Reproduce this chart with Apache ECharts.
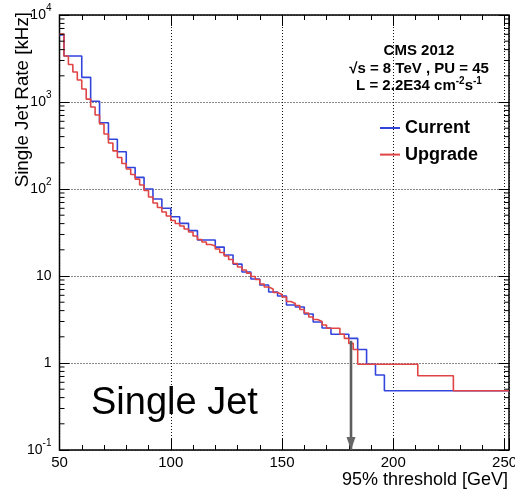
<!DOCTYPE html>
<html><head><meta charset="utf-8">
<script src="https://cdn.jsdelivr.net/npm/echarts@6/dist/echarts.min.js"></script>
<style>html,body{margin:0;padding:0;background:#fff}#c{width:515px;height:489px}</style>
</head><body><div id="c"></div>
<script>
// ---- data ----
// "Current": lower bin edges [GeV] and rates [kHz]
const currentEdges = [50,52,60,64,68,72,76,80,84,88,92,96,100,104,108,112,120,124,128,132,
  136,140,144,148,152,156,160,164,168,172,180,184,188,192,196];
const currentValues = [5900,3380,1920,1020,578,373,268,177,136,100,76.8,60.0,48.0,40.3,33.2,25.9,21.5,17.4,13.7,11.1,
  9.24,7.88,6.55,5.89,4.64,4.40,3.66,2.96,2.53,2.14,1.92,1.43,0.966,0.728,0.480];
// "Upgrade": lower bin edges [GeV] and rates [kHz]
const upgradeEdges = [50,52,54,56,58,60,62,64,66,68,70,72,74,76,78,80,82,84,86,88,
  90,92,94,96,98,100,102,104,106,108,110,112,114,116,118,120,122,124,126,128,
  130,132,134,136,138,140,142,144,146,148,150,152,154,156,158,160,162,164,166,168,
  170,172,174,176,178,180,182,184,211,227];
const upgradeValues = [6050,3380,2700,2210,1790,1410,1080,876,709,559,
  429,338,274,230,196,170,147,130,111,96.1,
  80.9,69.1,61.3,54.4,48.9,43.4,40.1,37.5,34.7,32.0,
  28.8,26.3,24.6,23.0,22.1,20.4,18.6,17.0,15.5,13.9,
  12.7,11.7,10.8,9.87,9.12,8.09,7.47,7.09,6.46,6.13,
  5.74,5.09,4.83,4.58,4.12,3.75,3.38,3.16,3.00,2.73,
  2.51,2.51,2.51,2.14,1.92,1.68,1.43,0.966,0.715,0.480];
const xMin = 50, xMax = 252;
const yMin = 0.1, yMax = 10000;
const xTickLabels = [50,100,150,200,250];
const thresholdX = 181;      // 95% threshold arrow position [GeV]
const thresholdTop = 1.8;    // arrow starts at this rate [kHz]

// ---- chart ----
const FONT = 'Liberation Sans';
function stepData(edges, values, end) {
  const d = edges.map((e, i) => [e, values[i]]);
  d.push([end, values[values.length - 1]]);
  return d;
}
const minorTickVals = [];
for (let e = -1; e < 4; e++) for (let k = 2; k <= 9; k++) minorTickVals.push(k * Math.pow(10, e));

const gridLine = {show: true, lineStyle: {color: '#111', width: 1, type: [1, 2]}};
function xAxisDef(pos, interval, len, labels, split) {
  return {
    type: 'value', min: xMin, max: xMax, interval: interval, position: pos,
    axisLine: {show: false},
    axisTick: {show: true, inside: true, length: len, lineStyle: {color: '#000', width: 1}},
    axisLabel: labels ? {
      show: true, margin: 5, color: '#000', fontSize: 15, fontFamily: FONT, hideOverlap: false,
      formatter: v => (xTickLabels.indexOf(v) >= 0 ? String(v) : '')
    } : {show: false},
    splitLine: split ? gridLine : {show: false}
  };
}
function yAxisDef(pos, labels, split) {
  return {
    type: 'log', logBase: 10, min: yMin, max: yMax, position: pos,
    axisLine: {show: false},
    axisTick: {show: true, inside: true, length: 10, lineStyle: {color: '#000', width: 1}},
    axisLabel: labels ? {
      show: true, margin: 8, color: '#000', fontFamily: FONT,
      formatter: v => {
        const e = Math.round(Math.log10(v));
        if (e === 0) return '{b|1}';
        if (e === 1) return '{b|10}';
        return '{b|10}{s|' + e + '}';
      },
      rich: {
        b: {fontSize: 14, fontFamily: FONT, color: '#000', lineHeight: 24},
        s: {fontSize: 10, fontFamily: FONT, color: '#000', lineHeight: 10, verticalAlign: 'top'}
      }
    } : {show: false},
    splitLine: split ? gridLine : {show: false}
  };
}

const chart = echarts.init(document.getElementById('c'), null, {renderer: 'canvas'});
chart.setOption({
  animation: false,
  backgroundColor: '#fff',
  grid: {left: 59.5, right: 6, top: 15, bottom: 39, show: true, borderColor: '#000', borderWidth: 1.5,
    containLabel: false, outerBoundsMode: 'none'},
  xAxis: [
    xAxisDef('bottom', 50, 11, true, true),
    xAxisDef('bottom', 10, 5, false, false),
    xAxisDef('top', 50, 11, false, false),
    xAxisDef('top', 10, 5, false, false)
  ],
  yAxis: [yAxisDef('left', true, true), yAxisDef('right', false, false)],
  legend: {
    data: ['Current', 'Upgrade'], orient: 'vertical', left: 375, top: 114,
    itemWidth: 20, itemHeight: 2, icon: 'rect', itemGap: 8.6,
    textStyle: {fontFamily: FONT, fontWeight: 'bold', fontSize: 18, color: '#000', lineHeight: 18}
  },
  series: [
    {
      name: 'Current', type: 'line', step: 'end', xAxisIndex: 0, yAxisIndex: 0,
      data: stepData(currentEdges, currentValues, xMax), symbol: 'none',
      lineStyle: {color: '#3344dd', width: 1.6}, itemStyle: {color: '#3344dd'}, z: 3
    },
    {
      name: 'Upgrade', type: 'line', step: 'end', xAxisIndex: 0, yAxisIndex: 0,
      data: stepData(upgradeEdges, upgradeValues, xMax), symbol: 'none',
      lineStyle: {color: '#e04444', width: 1.6}, itemStyle: {color: '#e04444'}, z: 4
    },
    {
      name: 'threshold', type: 'line', xAxisIndex: 0, yAxisIndex: 0, clip: false,
      data: [
        {value: [thresholdX, thresholdTop], symbol: 'none'},
        {value: [thresholdX, yMin], symbol: 'triangle', symbolSize: [9, 13], symbolRotate: 180, symbolOffset: [0, -6.5]}
      ],
      lineStyle: {color: '#5e5e5e', width: 2.6}, itemStyle: {color: '#666'}, z: 6
    },
    {
      name: 'minorTicks', type: 'custom', xAxisIndex: 0, yAxisIndex: 0, silent: true, clip: false, z: 5,
      data: minorTickVals.map(v => [xMin, v]),
      renderItem: (params, api) => {
        const cs = params.coordSys;
        const y = api.coord([xMin, api.value(1)])[1];
        const st = {stroke: '#000', lineWidth: 1};
        return {type: 'group', children: [
          {type: 'line', shape: {x1: cs.x, y1: y, x2: cs.x + 5, y2: y}, style: st},
          {type: 'line', shape: {x1: cs.x + cs.width, y1: y, x2: cs.x + cs.width - 5, y2: y}, style: st}
        ]};
      }
    }
  ],
  graphic: [
    {type: 'text', x: 23, y: 12, rotation: Math.PI / 2,
      style: {text: 'Single Jet Rate [kHz]', fontSize: 18.8, fontFamily: FONT, fill: '#000', align: 'right', verticalAlign: 'middle'}},
    {type: 'text', x: 508, y: 480,
      style: {text: '95% threshold [GeV]', fontSize: 18, fontFamily: FONT, fill: '#000', align: 'right', verticalAlign: 'middle'}},
    {type: 'text', x: 91, y: 404,
      style: {text: 'Single Jet', fontSize: 38, fontFamily: FONT, fill: '#000', align: 'left', verticalAlign: 'middle'}},
    {type: 'text', x: 419, y: 51,
      style: {text: 'CMS 2012', fontSize: 15, fontWeight: 'bold', fontFamily: FONT, fill: '#000', align: 'center', verticalAlign: 'middle'}},
    {type: 'text', x: 419, y: 69,
      style: {text: '\u221As = 8 TeV , PU = 45', fontSize: 15, fontWeight: 'bold', fontFamily: FONT, fill: '#000', align: 'center', verticalAlign: 'middle'}},
    {type: 'text', x: 419, y: 86,
      style: {text: '{n|L = 2.2E34 cm}{s|-2}{n|s}{s|-1}', align: 'center', verticalAlign: 'middle', fill: '#000',
        rich: {
          n: {fontSize: 15, fontWeight: 'bold', fontFamily: FONT, fill: '#000', lineHeight: 19},
          s: {fontSize: 10, fontWeight: 'bold', fontFamily: FONT, fill: '#000', lineHeight: 10, verticalAlign: 'top'}
        }}}
  ]
});
</script>
</body></html>
